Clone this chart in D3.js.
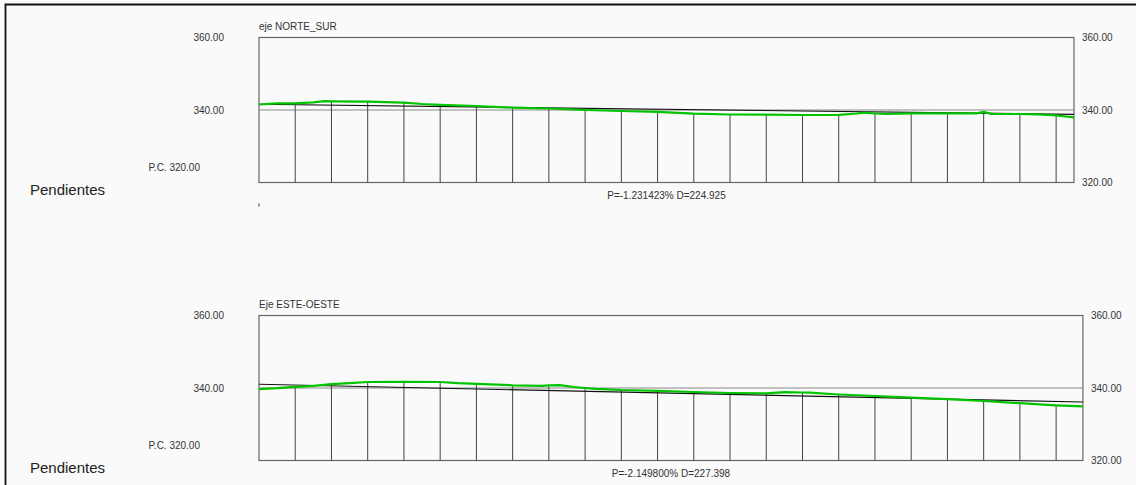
<!DOCTYPE html>
<html>
<head>
<meta charset="utf-8">
<script src="https://cdn.jsdelivr.net/npm/d3@7"></script>
<style>
  html, body { margin: 0; padding: 0; background: #fafafa; }
  svg { display: block; }
  text { font-family: "Liberation Sans", Arial, sans-serif; }
</style>
</head>
<body>
<svg id="chart" width="1136" height="485"></svg>
<script>
// Longitudinal profiles of two street axes: terrain (green), design grade (black)

// --- eje NORTE_SUR ---
const nsTitle = "eje NORTE_SUR";
const nsDist = [0, 5, 10, 15, 18, 20, 30, 40, 45, 50, 60, 70, 80, 90, 100, 110, 120, 130, 140, 150, 160, 165, 167, 170, 173, 180, 190, 198, 200, 202, 210, 215, 220, 224.925];
const nsTerrain = [341.52, 341.85, 341.85, 342.12, 342.43, 342.40, 342.29, 342.01, 341.66, 341.43, 341.10, 340.63, 340.41, 340.00, 339.72, 339.50, 339.01, 338.76, 338.70, 338.62, 338.68, 339.03, 339.25, 339.03, 338.90, 339.09, 339.09, 339.09, 339.45, 338.95, 338.90, 338.81, 338.48, 337.99];
const nsGradeStart = 341.57;
const nsSlope = -1.231423;   // %
const nsLength = 224.925;    // m

// --- Eje ESTE-OESTE ---
const eoTitle = "Eje ESTE-OESTE";
const eoDist = [0, 5, 10, 15, 20, 25, 30, 40, 50, 55, 60, 70, 78, 80, 83, 87, 90, 93, 100, 110, 120, 130, 140, 145, 150, 152, 160, 170, 180, 190, 200, 210, 220, 227.398];
const eoTerrain = [339.67, 339.94, 340.33, 340.61, 341.05, 341.32, 341.66, 341.71, 341.66, 341.32, 341.15, 340.74, 340.61, 340.70, 340.77, 340.28, 340.00, 339.78, 339.45, 339.23, 338.90, 338.62, 338.54, 338.84, 338.76, 338.70, 338.21, 337.79, 337.32, 336.91, 336.41, 335.81, 335.23, 334.95];
const eoGradeStart = 341.02;
const eoSlope = -2.149800;   // %
const eoLength = 227.398;    // m

// Elevation ticks and station spacing
const leftTicks = [360, 340];
const rightTicks = [360, 340, 320];
const datumLabel = "P.C. 320.00";
const refElevation = 340;
const stationStep = 10;
const sideLabel = "Pendientes";

const svg = d3.select("#chart");

// Frame around the drawing sheet
svg.append("path")
  .attr("d", "M5.5,490V4.5H1140")
  .attr("fill", "none")
  .attr("stroke", "#111")
  .attr("stroke-width", 1.8);

const pxPerMetre = 3.6233;
const plotLeft = 259;

function drawProfile(cfg) {
  const g = svg.append("g");
  const x = d3.scaleLinear()
    .domain([0, cfg.length])
    .range([plotLeft, plotLeft + cfg.length * pxPerMetre]);
  const y = d3.scaleLinear()
    .domain([320, 360])
    .range([cfg.bottom, cfg.top]);
  const x0 = x.range()[0], x1 = x.range()[1];

  // Title above the box
  g.append("text")
    .attr("x", x0)
    .attr("y", cfg.top - 7.5)
    .attr("font-size", 10)
    .attr("fill", "#333")
    .text(cfg.title);

  // Box
  g.append("rect")
    .attr("x", x0)
    .attr("y", y(360))
    .attr("width", x1 - x0)
    .attr("height", y(320) - y(360))
    .attr("fill", "none")
    .attr("stroke", "#666")
    .attr("stroke-width", 1.2);

  // Reference elevation line
  g.append("line")
    .attr("x1", x0).attr("x2", x1)
    .attr("y1", y(refElevation)).attr("y2", y(refElevation))
    .attr("stroke", "#888")
    .attr("stroke-width", 1.2);

  // Station lines up to the terrain
  const stations = cfg.dist
    .map((d, i) => ({ d, z: cfg.terrain[i] }))
    .filter(p => p.d > 0 && p.d < cfg.length && p.d % stationStep === 0);
  g.append("g").selectAll("line")
    .data(stations)
    .join("line")
    .attr("x1", p => x(p.d)).attr("x2", p => x(p.d))
    .attr("y1", y(320)).attr("y2", p => y(p.z))
    .attr("stroke", "#444")
    .attr("stroke-width", 1);

  // Design grade
  const grade = [
    { d: 0, z: cfg.gradeStart },
    { d: cfg.length, z: cfg.gradeStart + cfg.slope / 100 * cfg.length }
  ];
  const line = d3.line().x(p => x(p.d)).y(p => y(p.z));
  g.append("path")
    .attr("d", line(grade))
    .attr("fill", "none")
    .attr("stroke", "#111")
    .attr("stroke-width", 1.1);

  // Terrain profile
  const terrain = cfg.dist.map((d, i) => ({ d, z: cfg.terrain[i] }));
  g.append("path")
    .attr("d", line(terrain))
    .attr("fill", "none")
    .attr("stroke", "#00c400")
    .attr("stroke-width", 2.2);

  // Left elevation axis
  const left = g.append("g")
    .attr("transform", `translate(${x0},0)`)
    .call(d3.axisLeft(y).tickValues(leftTicks).tickSize(0).tickPadding(35)
      .tickFormat(d3.format(".2f")));
  left.select(".domain").remove();
  left.selectAll("text").attr("font-size", 10).attr("fill", "#333")
    .attr("font-family", "Liberation Sans, Arial, sans-serif");

  // Datum label
  g.append("text")
    .attr("x", 200)
    .attr("y", y(320) - 14.5)
    .attr("dy", "0.32em")
    .attr("text-anchor", "end")
    .attr("font-size", 10)
    .attr("fill", "#333")
    .text(datumLabel);

  // Right elevation axis
  const right = g.append("g")
    .attr("transform", `translate(${x1},0)`)
    .call(d3.axisRight(y).tickValues(rightTicks).tickSize(0).tickPadding(8)
      .tickFormat(d3.format(".2f")));
  right.select(".domain").remove();
  right.selectAll("text").attr("font-size", 10).attr("fill", "#333")
    .attr("font-family", "Liberation Sans, Arial, sans-serif");

  // Side caption
  g.append("text")
    .attr("x", 30)
    .attr("y", y(320) + 12.8)
    .attr("font-size", 15)
    .attr("fill", "#222")
    .text(sideLabel);

  // Grade summary under the box
  g.append("text")
    .attr("x", (x0 + x1) / 2)
    .attr("y", y(320) + 13)
    .attr("dy", "0.32em")
    .attr("text-anchor", "middle")
    .attr("font-size", 10)
    .attr("fill", "#333")
    .text(`P=${cfg.slope.toFixed(6)}% D=${cfg.length.toFixed(3)}`);

  if (cfg.startTick) {
    g.append("line")
      .attr("x1", x0).attr("x2", x0)
      .attr("y1", y(320) + 21).attr("y2", y(320) + 24)
      .attr("stroke", "#333").attr("stroke-width", 1);
  }
}

drawProfile({
  title: nsTitle, dist: nsDist, terrain: nsTerrain,
  gradeStart: nsGradeStart, slope: nsSlope, length: nsLength,
  top: 37.5, bottom: 182.5, startTick: true
});

drawProfile({
  title: eoTitle, dist: eoDist, terrain: eoTerrain,
  gradeStart: eoGradeStart, slope: eoSlope, length: eoLength,
  top: 315.5, bottom: 460.5, startTick: false
});
</script>
</body>
</html>
